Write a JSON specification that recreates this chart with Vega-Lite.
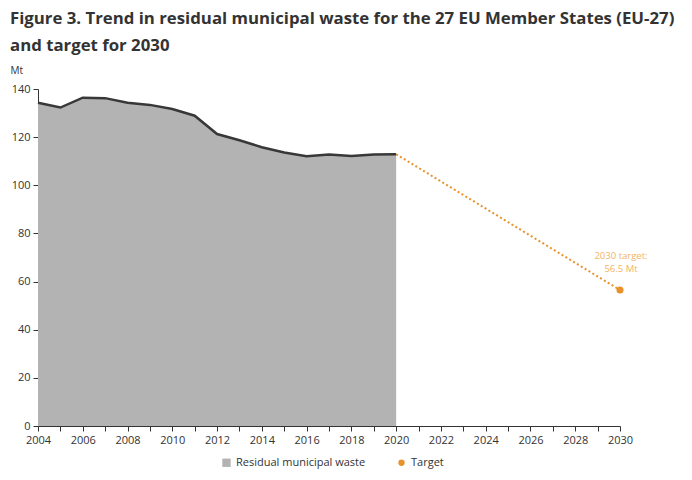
{
  "$schema": "https://vega.github.io/schema/vega-lite/v6.json",
  "width": 582,
  "height": 337,
  "autosize": "none",
  "padding": {"left": 38, "top": 89, "right": 72, "bottom": 54},
  "background": "white",
  "config": {
    "font": "Open Sans",
    "view": {"stroke": null},
    "axis": {"labelFont": "Open Sans", "labelFontSize": 11, "labelColor": "#333333", "domainColor": "#333333", "tickColor": "#333333", "grid": false}
  },
  "title": {
    "text": ["Figure 3. Trend in residual municipal waste for the 27 EU Member States (EU-27)", "and target for 2030"],
    "anchor": "start",
    "frame": "group",
    "font": "Open Sans",
    "fontSize": 16.8,
    "fontWeight": "bold",
    "color": "#333333",
    "lineHeight": 27,
    "dx": -28,
    "offset": 10
  },
  "data": {
    "values": [
      {"year": 2004, "value": 134.3, "series": "Residual municipal waste"},
      {"year": 2005, "value": 132.3, "series": "Residual municipal waste"},
      {"year": 2006, "value": 136.4, "series": "Residual municipal waste"},
      {"year": 2007, "value": 136.2, "series": "Residual municipal waste"},
      {"year": 2008, "value": 134.3, "series": "Residual municipal waste"},
      {"year": 2009, "value": 133.4, "series": "Residual municipal waste"},
      {"year": 2010, "value": 131.7, "series": "Residual municipal waste"},
      {"year": 2011, "value": 128.9, "series": "Residual municipal waste"},
      {"year": 2012, "value": 121.3, "series": "Residual municipal waste"},
      {"year": 2013, "value": 118.7, "series": "Residual municipal waste"},
      {"year": 2014, "value": 115.8, "series": "Residual municipal waste"},
      {"year": 2015, "value": 113.6, "series": "Residual municipal waste"},
      {"year": 2016, "value": 112.1, "series": "Residual municipal waste"},
      {"year": 2017, "value": 112.8, "series": "Residual municipal waste"},
      {"year": 2018, "value": 112.2, "series": "Residual municipal waste"},
      {"year": 2019, "value": 112.8, "series": "Residual municipal waste"},
      {"year": 2020, "value": 112.9, "series": "Residual municipal waste"},
      {"year": 2020, "value": 112.9, "series": "Target"},
      {"year": 2030, "value": 56.5, "series": "Target"}
    ]
  },
  "encoding": {
    "x": {
      "field": "year",
      "type": "quantitative",
      "scale": {"domain": [2004, 2030], "nice": false, "zero": false},
      "axis": {
        "title": null,
        "values": [2004, 2005, 2006, 2007, 2008, 2009, 2010, 2011, 2012, 2013, 2014, 2015, 2016, 2017, 2018, 2019, 2020, 2021, 2022, 2023, 2024, 2025, 2026, 2027, 2028, 2029, 2030],
        "labelExpr": "datum.value % 2 == 0 ? datum.label : ''",
        "format": "d",
        "labelOverlap": false,
        "labelFlush": false,
        "tickSize": 5,
        "labelPadding": 3
      }
    },
    "y": {
      "field": "value",
      "type": "quantitative",
      "scale": {"domain": [0, 140], "nice": false},
      "axis": {
        "title": "Mt",
        "titleAngle": 0,
        "titleAlign": "left",
        "titleBaseline": "middle",
        "titleX": -28,
        "titleY": -19,
        "titleFont": "Open Sans",
        "titleFontSize": 10,
        "titleFontWeight": "normal",
        "titleColor": "#333333",
        "values": [0, 20, 40, 60, 80, 100, 120, 140],
        "tickSize": 5,
        "labelPadding": 3,
        "labelFlush": false
      }
    }
  },
  "layer": [
    {
      "transform": [{"filter": "datum.series == 'Residual municipal waste'"}],
      "mark": {"type": "area", "opacity": 1},
      "encoding": {
        "color": {
          "field": "series",
          "type": "nominal",
          "scale": {"domain": ["Residual municipal waste", "Target"], "range": ["#b3b3b3", "#e8922b"]},
          "legend": {
            "title": null,
            "orient": "none",
            "direction": "horizontal",
            "legendX": 183,
            "legendY": 368,
            "labelFont": "Open Sans",
            "labelFontSize": 11,
            "labelColor": "#333333",
            "columnPadding": 30,
            "symbolOpacity": 1,
            "symbolStrokeWidth": 0,
            "encode": {
              "symbols": {
                "update": {
                  "shape": {"signal": "datum.value == 'Target' ? 'circle' : 'square'"},
                  "size": {"signal": "datum.value == 'Target' ? 40 : 70"},
                  "strokeWidth": {"value": 0}
                }
              }
            }
          }
        }
      }
    },
    {
      "transform": [{"filter": "datum.series == 'Residual municipal waste'"}],
      "mark": {"type": "line", "color": "#383838", "strokeWidth": 2.5},
      "encoding": {}
    },
    {
      "transform": [{"filter": "datum.series == 'Target'"}],
      "mark": {"type": "line", "color": "#e8922b", "strokeWidth": 2, "strokeDash": [2, 2.5]},
      "encoding": {}
    },
    {
      "transform": [{"filter": "datum.series == 'Target' && datum.year == 2030"}],
      "mark": {"type": "point", "filled": true, "size": 50, "opacity": 1},
      "encoding": {
        "color": {"field": "series", "type": "nominal"}
      }
    },
    {
      "transform": [{"filter": "datum.series == 'Target' && datum.year == 2030"}],
      "mark": {"type": "text", "align": "center", "baseline": "bottom", "dx": 1, "dy": -29, "fontSize": 9.5, "color": "#f0b466", "lineHeight": 13},
      "encoding": {
        "text": {"value": ["2030 target:", "56.5 Mt"]}
      }
    }
  ]
}
